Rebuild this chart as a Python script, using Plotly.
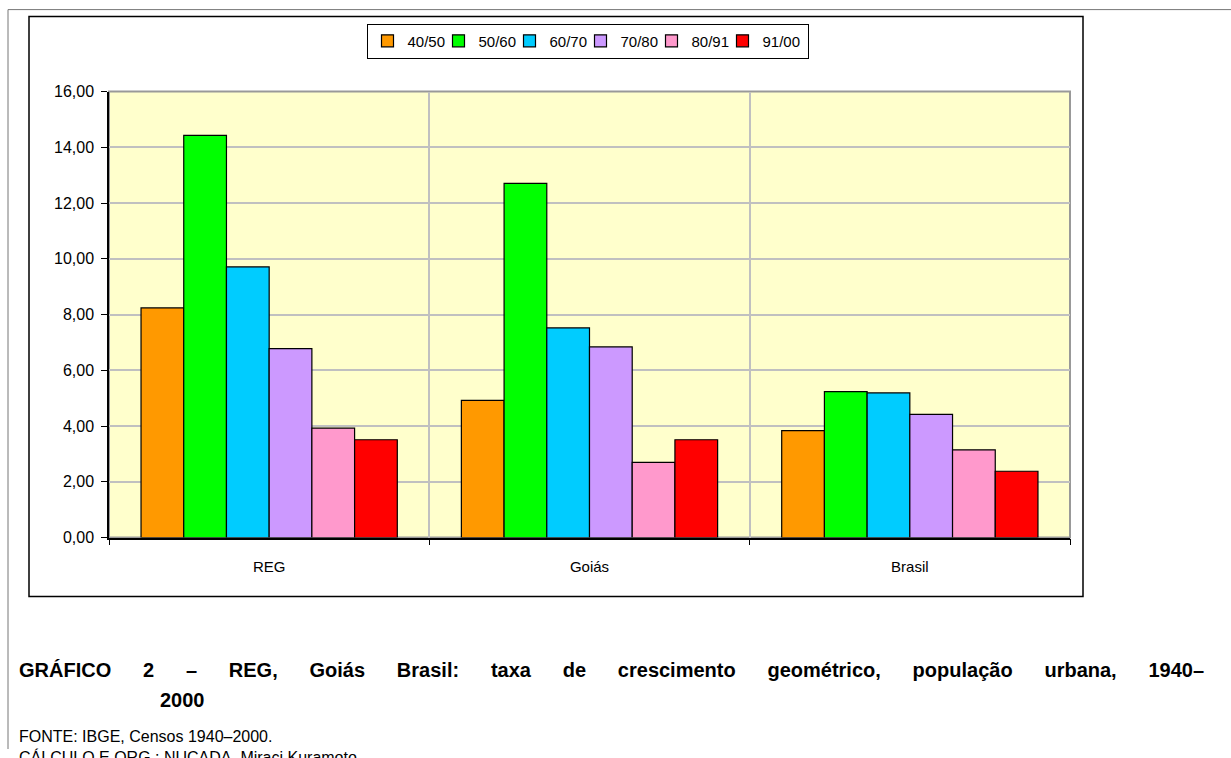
import plotly.graph_objects as go

categories = ["REG", "Goiás", "Brasil"]
periods = ["40/50", "50/60", "60/70", "70/80", "80/91", "91/00"]
v_40_50 = [8.24, 4.92, 3.84]
v_50_60 = [14.43, 12.71, 5.24]
v_60_70 = [9.71, 7.52, 5.19]
v_70_80 = [6.78, 6.84, 4.42]
v_80_91 = [3.93, 2.70, 3.15]
v_91_00 = [3.51, 3.51, 2.38]
series = [v_40_50, v_50_60, v_60_70, v_70_80, v_80_91, v_91_00]
colors = ["#FF9900", "#00FF00", "#00CCFF", "#CC99FF", "#FF99CC", "#FF0000"]

W, H = 1231, 758
FONT = "Liberation Sans, Arial, sans-serif"

# vertical calibration of the capture (screen y -> paper y in px)
OFF_Y, SC_Y = 8.4, 0.9776


def fy(screen_y):
    """paper fraction (from bottom) for a target screen y"""
    return 1 - ((screen_y - OFF_Y) / SC_Y) / H


def fx(screen_x):
    return screen_x / W


fig = go.Figure()
for i, (name, vals, col) in enumerate(zip(periods, series, colors)):
    fig.add_trace(go.Bar(
        x=categories, y=vals, name=name,
        marker=dict(color=col, line=dict(color="black", width=1.2)),
        legendwidth=40 if i == len(periods) - 1 else 26,
    ))

px_l, px_r, px_t, px_b = 109, 1070, 92, 538

fig.update_layout(
    width=W, height=H, autosize=False,
    margin=dict(l=0, r=0, t=0, b=0),
    paper_bgcolor="white", plot_bgcolor="#FFFFCC",
    separators=",.",
    barmode="group", bargap=0.2, bargroupgap=0,
    font=dict(family=FONT, size=15, color="black"),
    showlegend=True,
    legend=dict(
        orientation="h", x=fx(587.5), xanchor="center",
        y=fy(24), yanchor="top",
        bordercolor="black", borderwidth=1, bgcolor="white",
        font=dict(family=FONT, size=15, color="black"),
        itemwidth=30, traceorder="normal",
        entrywidthmode="pixels",
    ),
    xaxis=dict(
        domain=[fx(px_l), fx(px_r)], type="category",
        tickson="boundaries", ticks="outside", ticklen=6, tickcolor="black",
        showgrid=True, gridcolor="#C0C0C0", gridwidth=1.5,
        showline=True, linecolor="black", linewidth=1.5,
        tickfont=dict(family=FONT, size=15, color="black"),
        ticklabelstandoff=15,
    ),
    yaxis=dict(
        domain=[fy(px_b), fy(px_t)],
        range=[0, 16], dtick=2, tickformat=".2f",
        ticks="outside", ticklen=6, tickcolor="black",
        showgrid=True, gridcolor="#C0C0C0", gridwidth=1.5,
        showline=True, linecolor="black", linewidth=1.5,
        zeroline=False,
        tickfont=dict(family=FONT, size=16, color="black"),
        ticklabelstandoff=4,
    ),
)

shapes = [
    dict(type="rect", xref="x domain", yref="y domain", x0=0, x1=1, y0=0, y1=1,
         line=dict(color="#999999", width=2), layer="below"),
    dict(type="rect", xref="paper", yref="paper",
         x0=fx(29), x1=fx(1083), y0=fy(597), y1=fy(17),
         line=dict(color="black", width=1.5)),
    dict(type="line", xref="paper", yref="paper",
         x0=fx(8), x1=1, y0=fy(10), y1=fy(10),
         line=dict(color="#777777", width=1)),
    dict(type="line", xref="paper", yref="paper",
         x0=fx(8), x1=fx(8), y0=fy(10), y1=0,
         line=dict(color="#777777", width=1)),
]
fig.update_layout(shapes=shapes)

title1 = "GRÁFICO 2 – REG, Goiás Brasil: taxa de crescimento geométrico, população urbana, 1940–"
gap = "\u00a0" * 5 + "\u2009"
title1_j = gap.join(title1.split(" "))

annotations = [
    dict(text="<b>" + title1_j + "</b>", xref="paper", yref="paper",
         x=fx(17), y=fy(670), xanchor="left", yanchor="middle",
         showarrow=False, font=dict(family=FONT, size=20, color="black")),
    dict(text="<b>2000</b>", xref="paper", yref="paper",
         x=fx(158), y=fy(700), xanchor="left", yanchor="middle",
         showarrow=False, font=dict(family=FONT, size=20, color="black")),
    dict(text="FONTE: IBGE, Censos 1940–2000.", xref="paper", yref="paper",
         x=fx(17), y=fy(737), xanchor="left", yanchor="middle",
         showarrow=False, font=dict(family=FONT, size=16, color="black")),
    dict(text="CÁLCULO E ORG.: NUCADA, Miraci Kuramoto", xref="paper", yref="paper",
         x=fx(17), y=fy(757), xanchor="left", yanchor="middle",
         showarrow=False, font=dict(family=FONT, size=16, color="black")),
]
fig.update_layout(annotations=annotations)

fig.write_html(
    "out.html",
    config={"displayModeBar": False},
    post_script=(
        "document.body.style.margin='0';"
        "document.body.style.overflow='hidden';"
        "var d=document.getElementById('{plot_id}');"
        "d.style.position='fixed';d.style.left='0px';d.style.top='0px';"
    ),
)
